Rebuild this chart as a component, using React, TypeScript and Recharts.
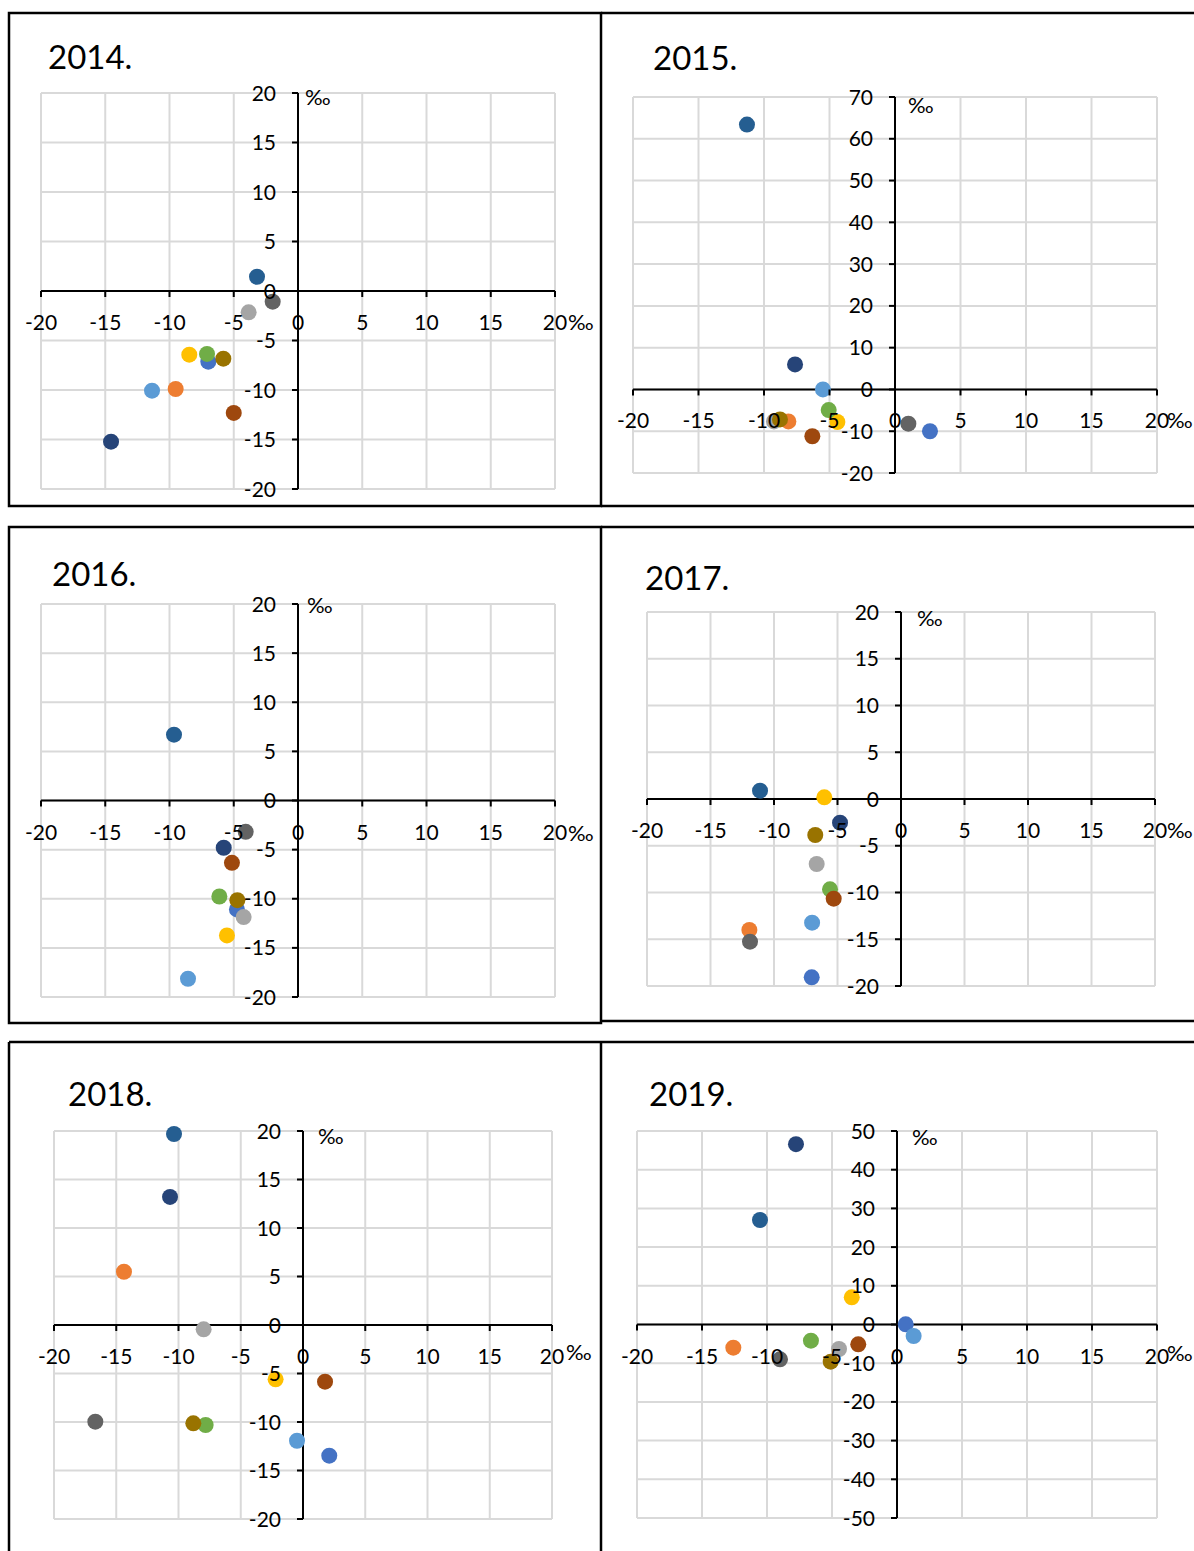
import React from 'react'
import { ScatterChart, Scatter, XAxis, YAxis, CartesianGrid, ReferenceLine } from 'recharts'

// Excel default series palette, in series order
const seriesColors = ['#4472C4', '#ED7D31', '#A5A5A5', '#FFC000', '#5B9BD5', '#70AD47', '#264478', '#9E480E', '#636363', '#997300', '#255E91']
const seriesNames = ['S1', 'S2', 'S3', 'S4', 'S5', 'S6', 'S7', 'S8', 'S9', 'S10', 'S11']

const years = ['2014.', '2015.', '2016.', '2017.', '2018.', '2019.']

// values in ‰, one per series (null = not shown)
const x2014 = [-6.98, -9.52, -3.84, -8.46, -11.36, -7.08, -14.55, -5.0, -1.97, -5.81, -3.19]
const y2014 = [-7.14, -9.9, -2.15, -6.43, -10.07, -6.36, -15.22, -12.32, -1.08, -6.84, 1.44]

const x2015 = [2.67, -8.14, -9.24, -4.4, -5.5, -5.06, -7.63, -6.31, 1.02, -8.78, -11.3]
const y2015 = [-10.0, -7.66, -7.66, -7.8, 0.0, -4.95, 6.0, -11.2, -8.2, -7.18, 63.4]

const x2016 = [-4.75, null, -4.23, -5.53, -8.56, -6.12, -5.78, -5.14, -4.07, -4.72, -9.65]
const y2016 = [-11.09, null, -11.87, -13.73, -18.14, -9.77, -4.81, -6.34, -3.19, -10.14, 6.7]

const x2017 = [-7.03, -11.94, -6.64, -6.04, -7.0, -5.59, -4.8, -5.3, -11.89, -6.75, -11.1]
const y2017 = [-19.07, -14.0, -6.95, 0.18, -13.23, -9.66, -2.53, -10.66, -15.26, -3.85, 0.89]

const x2018 = [2.11, -14.38, -7.98, -2.2, -0.48, -7.82, -10.68, 1.77, -16.68, -8.81, -10.36]
const y2018 = [-13.47, 5.49, -0.45, -5.6, -11.93, -10.31, 13.2, -5.84, -9.97, -10.14, 19.69]

const x2019 = [0.67, -12.59, -4.46, -3.48, 1.28, -6.62, -7.77, -2.98, -9.0, -5.1, -10.54]
const y2019 = [0.05, -5.99, -6.33, 7.03, -2.97, -4.19, 46.6, -5.12, -9.0, -9.61, 27.0]

const xTicks = [-20, -15, -10, -5, 0, 5, 10, 15, 20]
const yTicks20 = [-20, -15, -10, -5, 0, 5, 10, 15, 20]
const yTicks70 = [-20, -10, 0, 10, 20, 30, 40, 50, 60, 70]
const yTicks50 = [-50, -40, -30, -20, -10, 0, 10, 20, 30, 40, 50]

const FONT = 'Lato, "Open Sans", sans-serif'

type Box = { left: number; top: number; right: number; bottom: number }
type PanelDef = {
    title: string
    xs: (number | null)[]
    ys: (number | null)[]
    yTicks: number[]
    box: Box
    titleAt: [number, number]
    yUnitAt: [number, number]
    xUnitAt: [number, number]
}

const panels: PanelDef[] = [
    { title: years[0], xs: x2014, ys: y2014, yTicks: yTicks20, box: { left: 41, top: 93, right: 555, bottom: 489 }, titleAt: [48, 69], yUnitAt: [305, 105], xUnitAt: [568, 330] },
    { title: years[1], xs: x2015, ys: y2015, yTicks: yTicks70, box: { left: 633, top: 97, right: 1157, bottom: 473 }, titleAt: [653, 70], yUnitAt: [908, 113], xUnitAt: [1167, 428] },
    { title: years[2], xs: x2016, ys: y2016, yTicks: yTicks20, box: { left: 41, top: 604, right: 555, bottom: 997 }, titleAt: [52, 586], yUnitAt: [307, 613], xUnitAt: [568, 841] },
    { title: years[3], xs: x2017, ys: y2017, yTicks: yTicks20, box: { left: 647, top: 612, right: 1155, bottom: 986 }, titleAt: [645, 590], yUnitAt: [917, 626], xUnitAt: [1167, 838] },
    { title: years[4], xs: x2018, ys: y2018, yTicks: yTicks20, box: { left: 54, top: 1131, right: 552, bottom: 1519 }, titleAt: [68, 1106], yUnitAt: [318, 1144], xUnitAt: [566, 1360] },
    { title: years[5], xs: x2019, ys: y2019, yTicks: yTicks50, box: { left: 637, top: 1131, right: 1157, bottom: 1518 }, titleAt: [649, 1106], yUnitAt: [912, 1145], xUnitAt: [1167, 1361] },
]

// space around the plot area: margin + axis size
const ML = 50
const MR = 50
const MT = 20
const MB = 30
const Y_AXIS_W = 40
const X_AXIS_H = 30

function Panel({ p }: { p: PanelDef }) {
    const plotW = p.box.right - p.box.left
    const plotH = p.box.bottom - p.box.top
    const yMin = p.yTicks[0]
    const yMax = p.yTicks[p.yTicks.length - 1]
    const originX = ML + plotW / 2
    const originY = MT + (plotH * yMax) / (yMax - yMin)

    const xTick = ({ x, payload }: any) => (
        <g>
            <line x1={x} x2={x} y1={originY} y2={originY + 6} stroke="#000" strokeWidth={2} />
            <text x={x} y={originY + 39} textAnchor="middle" fontSize={21} fontFamily={FONT} fill="#000">
                {payload.value}
            </text>
        </g>
    )
    const yTick = ({ y, payload }: any) => (
        <g>
            <line x1={originX - 6} x2={originX} y1={y} y2={y} stroke="#000" strokeWidth={2} />
            <text x={originX - 22} y={y + 7.5} textAnchor="end" fontSize={21} fontFamily={FONT} fill="#000">
                {payload.value}
            </text>
        </g>
    )

    return (
        <div style={{ position: 'absolute', left: p.box.left - ML, top: p.box.top - MT }}>
            <ScatterChart
                width={plotW + ML + MR}
                height={plotH + MT + MB}
                margin={{ top: MT, right: MR, bottom: MB - X_AXIS_H, left: ML - Y_AXIS_W }}
                style={{ overflow: 'visible' }}
            >
                <CartesianGrid stroke="#d9d9d9" strokeWidth={2} />
                <ReferenceLine x={0} stroke="#000" strokeWidth={2} />
                <ReferenceLine y={0} stroke="#000" strokeWidth={2} />
                <XAxis type="number" dataKey="x" domain={[-20, 20]} ticks={xTicks} interval={0} height={X_AXIS_H}
                    axisLine={false} tickLine={false} tick={xTick} />
                <YAxis type="number" dataKey="y" domain={[yMin, yMax]} ticks={p.yTicks} interval={0} width={Y_AXIS_W}
                    axisLine={false} tickLine={false} tick={yTick} />
                {seriesNames.map((name, i) => {
                    const xv = p.xs[i]
                    const yv = p.ys[i]
                    if (xv == null || yv == null) return null
                    return (
                        <Scatter
                            key={name}
                            name={name}
                            data={[{ x: xv, y: yv }]}
                            fill={seriesColors[i]}
                            isAnimationActive={false}
                            shape={(s: any) => <circle cx={s.cx} cy={s.cy} r={8} fill={seriesColors[i]} />}
                        />
                    )
                })}
            </ScatterChart>
        </div>
    )
}

export default function App() {
    return (
        <div style={{ position: 'absolute', left: 0, top: 0, width: 1194, height: 1551, overflow: 'hidden', background: '#fff' }}>
            {panels.map(p => <Panel key={p.title} p={p} />)}
            <svg width={1194} height={1551} style={{ position: 'absolute', left: 0, top: 0, pointerEvents: 'none' }}>
                <g stroke="#000" strokeWidth={2.5} fill="none">
                    <rect x={9} y={13} width={592} height={493} />
                    <line x1={601} x2={1194} y1={13} y2={13} />
                    <line x1={601} x2={1194} y1={506} y2={506} />
                    <rect x={9} y={527} width={592} height={496} />
                    <line x1={601} x2={1194} y1={527} y2={527} />
                    <line x1={601} x2={1194} y1={1021} y2={1021} />
                    <line x1={9} x2={1194} y1={1042} y2={1042} />
                    <line x1={9} x2={9} y1={1042} y2={1551} />
                    <line x1={601} x2={601} y1={1042} y2={1551} />
                </g>
                {panels.map(p => (
                    <g key={p.title} fontFamily={FONT} fill="#000">
                        <text x={p.titleAt[0]} y={p.titleAt[1]} fontSize={33}>{p.title}</text>
                        <text x={p.yUnitAt[0]} y={p.yUnitAt[1]} fontSize={22}>‰</text>
                        <text x={p.xUnitAt[0]} y={p.xUnitAt[1]} fontSize={22}>‰</text>
                    </g>
                ))}
            </svg>
        </div>
    )
}
